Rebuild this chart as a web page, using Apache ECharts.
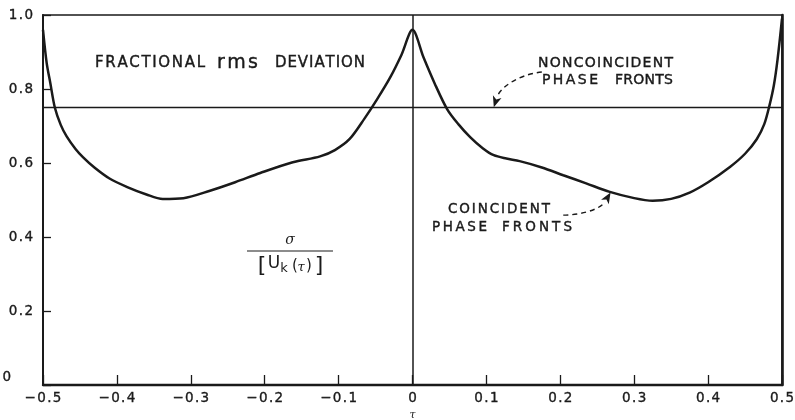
<!DOCTYPE html>
<html>
<head>
<meta charset="utf-8">
<script src="https://cdn.jsdelivr.net/npm/echarts@6/dist/echarts.min.js"></script>
<style>
  html, body { margin: 0; padding: 0; background: #fff; }
  #chart { width: 795px; height: 420px; }
</style>
</head>
<body>
<div id="chart"></div>
<script>
// Fractional rms deviation sigma / [U_k(tau)] versus tau
const tau = [
  -0.5, -0.495, -0.49, -0.484, -0.476, -0.468, -0.456, -0.446, -0.43, -0.41,
  -0.386, -0.36, -0.338, -0.31, -0.274, -0.24, -0.206, -0.162, -0.125, -0.105,
  -0.085, -0.065, -0.048, -0.03, -0.015, 0,
  0.015, 0.03, 0.047, 0.062, 0.078, 0.095, 0.11, 0.127, 0.145, 0.175,
  0.204, 0.235, 0.267, 0.3, 0.325, 0.35, 0.375, 0.4, 0.43, 0.45,
  0.466, 0.476, 0.483, 0.489, 0.494, 0.5
];
const coincident = [
  0.96, 0.87, 0.815, 0.75, 0.703, 0.672, 0.638, 0.616, 0.587, 0.558,
  0.535, 0.515, 0.503, 0.505, 0.525, 0.548, 0.573, 0.602, 0.618, 0.635,
  0.665, 0.72, 0.772, 0.832, 0.892, 0.96,
  0.885, 0.815, 0.745, 0.705, 0.67, 0.64, 0.621, 0.612, 0.605, 0.588,
  0.567, 0.545, 0.522, 0.505, 0.498, 0.503, 0.52, 0.548, 0.59, 0.625,
  0.665, 0.705, 0.755, 0.81, 0.88, 0.99
];
const noncoincidentTau = [-0.5, 0.5];
const noncoincident = [0.75, 0.75];

const FONT = 'DejaVu Sans';
const INK = '#1a1a1a';
const HAIR = '\u200A';

const chart = echarts.init(document.getElementById('chart'), null, { renderer: 'canvas' });

// tick labels are lettered with a little extra spacing between characters
function spaced(s) { return s.split('').join(HAIR); }
function fmtX(v) {
  const r = Math.round(v * 10) / 10;
  if (r === 0) return '0';
  return spaced((r < 0 ? '\u2212' : '') + Math.abs(r).toFixed(1));
}
function fmtY(v) {
  const r = Math.round(v * 10) / 10;
  if (r === 0) return '{z|0}';
  return spaced(r.toFixed(1));
}

const tickText = {
  fontFamily: FONT, fontSize: 13.5, color: INK,
  textBorderColor: INK, textBorderWidth: 0.35
};

chart.setOption({
  animation: false,
  backgroundColor: '#fff',
  grid: {
    left: 43, right: 13, top: 15, bottom: 35,
    outerBoundsMode: 'none',
    show: true, borderColor: INK, borderWidth: 1.6, backgroundColor: 'transparent'
  },
  xAxis: {
    type: 'value', min: -0.5, max: 0.5, interval: 0.1,
    name: '\u03c4', nameLocation: 'middle', nameGap: 25,
    nameTextStyle: { fontFamily: 'DejaVu Serif', fontStyle: 'italic', fontSize: 11, color: INK },
    axisLine: { show: true, onZero: false, lineStyle: { color: INK, width: 2.4 } },
    axisTick: { show: true, inside: true, length: 10, lineStyle: { color: INK, width: 1.3 } },
    splitLine: { show: false },
    axisLabel: Object.assign({ formatter: fmtX, margin: 6 }, tickText)
  },
  yAxis: [
    {
      type: 'value', min: 0, max: 1.0, interval: 0.2,
      axisLine: { show: true, onZero: false, lineStyle: { color: INK, width: 2 } },
      axisTick: { show: true, inside: true, length: 8, lineStyle: { color: INK, width: 1.3 } },
      splitLine: { show: false },
      axisLabel: Object.assign({
        formatter: fmtY, margin: 10,
        rich: { z: Object.assign({ padding: [0, 22, 16, 0] }, tickText) }
      }, tickText)
    },
    {
      type: 'value', min: 0, max: 1.0, interval: 0.2, position: 'right',
      axisLine: { show: true, onZero: false, lineStyle: { color: INK, width: 2.6 } },
      axisTick: { show: false }, axisLabel: { show: false }, splitLine: { show: false }
    }
  ],
  series: [
    {
      name: 'NONCOINCIDENT PHASE FRONTS',
      type: 'line',
      data: noncoincidentTau.map((t, i) => [t, noncoincident[i]]),
      symbol: 'none',
      lineStyle: { color: INK, width: 1.5 },
      markLine: {
        silent: true, symbol: 'none', label: { show: false },
        lineStyle: { color: INK, width: 1.5, type: 'solid' },
        data: [{ xAxis: 0 }]
      },
      z: 2
    },
    {
      name: 'COINCIDENT PHASE FRONTS',
      type: 'line',
      data: tau.map((t, i) => [t, coincident[i]]),
      symbol: 'none',
      smooth: 0.3,
      lineStyle: { color: INK, width: 2.5 },
      z: 3
    }
  ]
});

// Annotations, leaders and the sigma / [U_k(tau)] label, anchored in data space
function px(t, v) { return chart.convertToPixel({ gridIndex: 0 }, [t, v]); }

const measureCtx = document.createElement('canvas').getContext('2d');

// Letter-spaced word spread between two tau positions at height v
function fitText(str, t0, t1, v, font, out) {
  measureCtx.font = font;
  const chars = str.split('');
  const widths = chars.map(c => measureCtx.measureText(c).width);
  const natural = widths.reduce((a, b) => a + b, 0);
  const a = px(t0, v), b = px(t1, v);
  const gap = chars.length > 1 ? (b[0] - a[0] - natural) / (chars.length - 1) : 0;
  let x = a[0];
  chars.forEach((c, i) => {
    out.push({
      type: 'text', x: x, y: a[1], silent: true,
      style: {
        text: c, fill: INK, font: font, textAlign: 'left', textVerticalAlign: 'middle',
        stroke: INK, lineWidth: 0.4
      }
    });
    x += widths[i] + gap;
  });
}

function label(text, t, v, font, out) {
  const p = px(t, v);
  out.push({
    type: 'text', x: p[0], y: p[1], silent: true,
    style: { text: text, fill: INK, font: font, textAlign: 'center', textVerticalAlign: 'middle' }
  });
}

function dashedLeader(pts, out) {
  const a = px(pts[0][0], pts[0][1]);
  const c1 = px(pts[1][0], pts[1][1]);
  const c2 = px(pts[2][0], pts[2][1]);
  const b = px(pts[3][0], pts[3][1]);
  const dx = b[0] - c2[0], dy = b[1] - c2[1];
  const len = Math.hypot(dx, dy) || 1;
  const ux = dx / len, uy = dy / len;
  const L = 11, W = 4.5;
  const base = [b[0] - ux * L, b[1] - uy * L];
  const head = [
    [b[0], b[1]],
    [base[0] - uy * W, base[1] + ux * W],
    [base[0] + ux * 3, base[1] + uy * 3],
    [base[0] + uy * W, base[1] - ux * W]
  ];
  out.push({
    type: 'bezierCurve', silent: true,
    shape: { x1: a[0], y1: a[1], cpx1: c1[0], cpy1: c1[1], cpx2: c2[0], cpy2: c2[1], x2: base[0], y2: base[1] },
    style: { stroke: INK, lineWidth: 1.4, lineDash: [5, 4], fill: null }
  });
  out.push({ type: 'polygon', silent: true, shape: { points: head }, style: { fill: INK } });
}

const g = [];
const F13 = '13.5px "' + FONT + '"';
const F14 = '14px "' + FONT + '"';
const F15 = '15px "' + FONT + '"';
fitText('FRACTIONAL', -0.4296, -0.2808, 0.8703, F15, g);
fitText('rms', -0.2645, -0.2091, 0.8703, '19px "' + FONT + '"', g);
fitText('DEVIATION', -0.1861, -0.0643, 0.8703, F15, g);
fitText('NONCOINCIDENT', 0.1698, 0.3525, 0.8703, F14, g);
fitText('PHASE', 0.1752, 0.2510, 0.8243, F14, g);
fitText('FRONTS', 0.2740, 0.3525, 0.8243, F14, g);
fitText('COINCIDENT', 0.0480, 0.1861, 0.4730, F13, g);
fitText('PHASE', 0.0264, 0.1008, 0.4270, F13, g);
fitText('FRONTS', 0.1211, 0.2158, 0.4270, F13, g);
dashedLeader([[0.175, 0.846], [0.14, 0.838], [0.118, 0.80], [0.11, 0.751]], g);
dashedLeader([[0.204, 0.459], [0.235, 0.46], [0.256, 0.48], [0.268, 0.52]], g);

// sigma over [U_k(tau)]
label('\u03c3', -0.1658, 0.392, 'italic 14px "DejaVu Serif"', g);
const f1 = px(-0.2240, 0.3622), f2 = px(-0.1076, 0.3622);
g.push({
  type: 'line', silent: true,
  shape: { x1: f1[0], y1: f1[1], x2: f2[0], y2: f2[1] },
  style: { stroke: INK, lineWidth: 1.2 }
});
label('[', -0.2037, 0.322, '22px "' + FONT + '"', g);
label('U', -0.1874, 0.327, '17px "' + FONT + '"', g);
label('k', -0.1739, 0.314, '13px "' + FONT + '"', g);
label('(', -0.159, 0.322, '15px "' + FONT + '"', g);
label('\u03c4', -0.1509, 0.317, 'italic 13px "DejaVu Serif"', g);
label(')', -0.140, 0.322, '15px "' + FONT + '"', g);
label(']', -0.1265, 0.322, '22px "' + FONT + '"', g);

chart.setOption({ graphic: g });
</script>
</body>
</html>
